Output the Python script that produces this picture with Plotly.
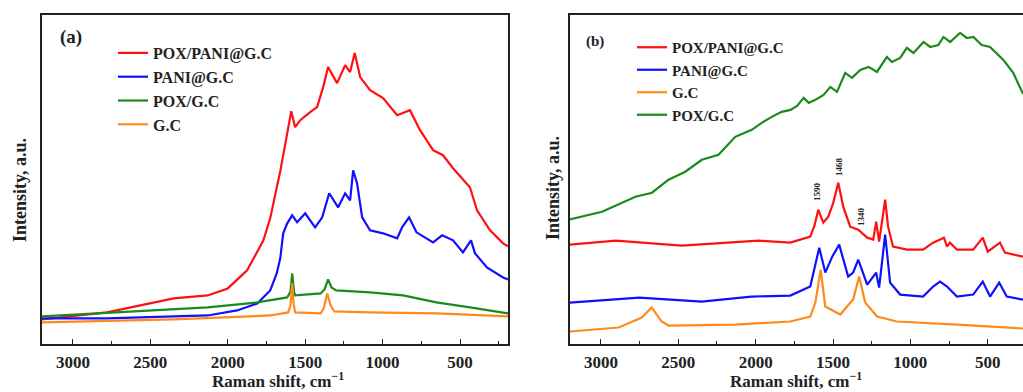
import plotly.graph_objects as go

W, H = 1023, 392
FONT = "Liberation Serif"

# ---------------- Panel (a) data ----------------
a_red_x = [3200, 2780, 2565, 2350, 2130, 2000, 1875, 1770, 1726, 1690, 1661, 1616, 1590, 1565, 1532, 1468, 1423, 1384, 1352, 1294, 1242, 1210, 1180, 1145, 1081, 997, 906, 823, 758, 674, 610, 545, 436, 390, 306, 222, 190]
a_red_y = [24, 31, 38, 45, 48, 55, 73, 103, 125, 150, 172, 210, 232, 216, 223, 231, 236, 256, 276, 260, 278, 271, 290, 266, 253, 245, 228, 233, 213, 193, 188, 175, 156, 133, 113, 100, 97]

a_blue_x = [3200, 2780, 2565, 2130, 1940, 1810, 1726, 1684, 1661, 1642, 1616, 1584, 1552, 1500, 1436, 1390, 1345, 1287, 1242, 1210, 1190, 1165, 1132, 1081, 997, 906, 874, 829, 781, 674, 616, 545, 481, 429, 403, 326, 222, 190]
a_blue_y = [25, 25, 26, 28, 33, 40, 53, 70, 85, 110, 120, 128, 121, 130, 116, 126, 150, 136, 150, 143, 173, 160, 126, 113, 110, 105, 116, 126, 111, 101, 108, 103, 91, 103, 90, 76, 66, 64]

a_green_x = [3200, 2565, 2130, 1810, 1661, 1616, 1595, 1584, 1572, 1565, 1400, 1375, 1352, 1330, 1300, 1081, 868, 652, 436, 222, 190]
a_green_y = [27, 32, 36, 41, 45, 46, 52, 70, 52, 48, 50, 54, 64, 56, 53, 51, 48, 41, 36, 31, 30]

a_orange_x = [3200, 2350, 1726, 1610, 1595, 1584, 1575, 1565, 1400, 1380, 1358, 1335, 1312, 1081, 652, 222, 190]
a_orange_y = [21, 24, 28, 31, 38, 60, 40, 31, 30, 35, 50, 38, 32, 31, 30, 27, 27]

# ---------------- Panel (b) data ----------------
b_red_x = [3200, 2904, 2478, 1982, 1776, 1647, 1620, 1595, 1563, 1531, 1500, 1466, 1434, 1389, 1337, 1279, 1240, 1221, 1202, 1163, 1144, 1112, 1022, 918, 853, 783, 763, 744, 699, 594, 532, 500, 421, 389, 272]
b_red_y = [99, 103, 98, 103, 101, 107, 118, 134, 121, 127, 140, 161, 137, 117, 114, 106, 104, 122, 102, 144, 117, 97, 94, 94, 101, 106, 97, 101, 94, 94, 106, 92, 101, 91, 87]

b_blue_x = [3200, 2753, 2349, 2028, 1776, 1647, 1620, 1589, 1550, 1505, 1460, 1402, 1370, 1337, 1279, 1221, 1202, 1163, 1131, 1066, 918, 853, 808, 763, 699, 594, 532, 485, 426, 377, 272]
b_blue_y = [41, 46, 42, 47, 48, 57, 75, 96, 71, 87, 99, 67, 71, 84, 59, 71, 56, 109, 61, 49, 47, 57, 62, 57, 47, 49, 62, 47, 61, 47, 44]

b_orange_x = [3200, 2885, 2736, 2672, 2608, 2562, 2131, 1776, 1647, 1614, 1580, 1550, 1453, 1370, 1331, 1292, 1215, 1086, 699, 272]
b_orange_y = [12, 16, 26, 36, 22, 18, 19, 22, 27, 41, 74, 37, 29, 44, 67, 41, 27, 22, 19, 15]

b_green_x = [3208, 2993, 2777, 2670, 2563, 2455, 2348, 2240, 2132, 2025, 1961, 1896, 1832, 1775, 1732, 1690, 1657, 1614, 1561, 1517, 1474, 1421, 1377, 1324, 1270, 1216, 1152, 1119, 1066, 1023, 980, 915, 872, 819, 786, 743, 679, 635, 593, 539, 485, 399, 335, 272]
b_green_y = [124, 132, 147, 151, 164, 172, 184, 189, 207, 214, 221, 227, 232, 234, 238, 246, 241, 244, 249, 257, 252, 271, 266, 274, 277, 272, 287, 282, 286, 296, 291, 302, 297, 299, 307, 302, 311, 306, 307, 299, 297, 284, 271, 250]

colors = {"POX/PANI@G.C": "#ff1010", "PANI@G.C": "#1010ff", "POX/G.C": "#1a8a1a", "G.C": "#ff8a1c"}

peak_labels = ["1590", "1468", "1340"]
peak_x = [1608, 1466, 1324]
peak_y = [152, 177, 127]

tick_vals = [3000, 2500, 2000, 1500, 1000, 500]
tick_text = ["3000", "2500", "2000", "1500", "1000", "500"]

fig = go.Figure()

a_series = [
    ("POX/PANI@G.C", a_red_x, a_red_y),
    ("PANI@G.C", a_blue_x, a_blue_y),
    ("POX/G.C", a_green_x, a_green_y),
    ("G.C", a_orange_x, a_orange_y),
]
for n, xs, ys in a_series:
    fig.add_trace(go.Scatter(x=xs, y=ys, mode="lines", name=n, legend="legend",
                             line=dict(color=colors[n], width=2.2), xaxis="x", yaxis="y"))

b_series = [
    ("POX/PANI@G.C", b_red_x, b_red_y),
    ("PANI@G.C", b_blue_x, b_blue_y),
    ("G.C", b_orange_x, b_orange_y),
    ("POX/G.C", b_green_x, b_green_y),
]
for n, xs, ys in b_series:
    fig.add_trace(go.Scatter(x=xs, y=ys, mode="lines", name=n, legend="legend2",
                             line=dict(color=colors[n], width=2.2), xaxis="x2", yaxis="y2"))

ydom = [1 - 343.5 / H, 1 - 15 / H]
axis_common = dict(
    showline=True, linecolor="#222", linewidth=1.6, showgrid=False, zeroline=False,
    ticks="inside", ticklen=5, tickwidth=1.4, tickcolor="#222",
    tickvals=tick_vals, ticktext=tick_text,
    tickfont=dict(family=FONT, size=17, color="#222", weight="bold"),
    minor=dict(ticks="inside", ticklen=3, tickwidth=1.2, tickcolor="#222", dtick=250, tick0=0, showgrid=False),
    ticklabelstandoff=2,
)
yaxis_common = dict(showline=True, linecolor="#222", linewidth=1.6, showgrid=False, zeroline=False,
                    showticklabels=False, ticks="")

def legend_style(size):
    return dict(
        xanchor="left", yanchor="top", bgcolor="rgba(0,0,0,0)", borderwidth=0,
        font=dict(family=FONT, size=size, color="#222", weight="bold"),
        tracegroupgap=0, itemwidth=30,
    )

fig.update_layout(
    width=W, height=H,
    margin=dict(l=0, r=0, t=0, b=0),
    paper_bgcolor="white", plot_bgcolor="white",
    showlegend=True,
    xaxis=dict(domain=[42 / W, 508 / W], range=[3200, 190], mirror=True, anchor="y", **axis_common),
    yaxis=dict(domain=ydom, range=[0, 328], mirror=True, anchor="x", **yaxis_common),
    xaxis2=dict(domain=[570 / W, 1], range=[3200, 272], mirror=True, anchor="y2", **axis_common),
    yaxis2=dict(domain=ydom, range=[0, 329], mirror=False, anchor="x2", **yaxis_common),
    legend=dict(x=113 / W, y=1 - 36 / H, **legend_style(16)),
    legend2=dict(x=632 / W, y=1 - 31 / H, **legend_style(15)),
)

def ann(text, x, y, size, angle=0, xref="paper", yref="paper"):
    return dict(text=text, x=x, y=y, xref=xref, yref=yref, showarrow=False, textangle=angle,
                xanchor="center", yanchor="middle",
                font=dict(family=FONT, size=size, color="#222", weight="bold"))

annotations = [
    ann("(a)", 71 / W, 1 - 37 / H, 19),
    ann("(b)", 595 / W, 1 - 42 / H, 15),
    ann("Raman shift, cm<sup>\u22121</sup>", 278 / W, 1 - 380 / H, 17),
    ann("Raman shift, cm<sup>\u22121</sup>", 796 / W, 1 - 380 / H, 17),
    ann("Intensity, a.u.", 20 / W, 1 - 190 / H, 18, -90),
    ann("Intensity, a.u.", 553 / W, 1 - 188 / H, 18, -90),
]
for t, px_, py_ in zip(peak_labels, peak_x, peak_y):
    annotations.append(ann(t, px_, py_, 9, -90, "x2", "y2"))
fig.update_layout(annotations=annotations)

fig.write_html("out.html")
